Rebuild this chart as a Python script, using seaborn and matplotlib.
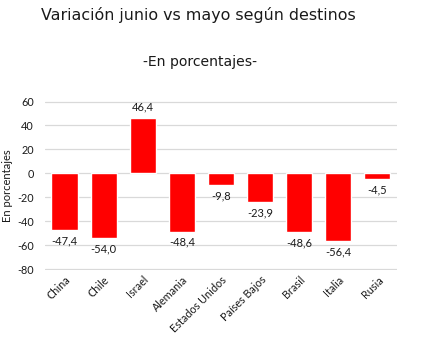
import matplotlib
matplotlib.use("Agg")
import matplotlib.pyplot as plt
import seaborn as sns
import pandas as pd

categories = ["China", "Chile", "Israel", "Alemania", "Estados Unidos",
              "Países Bajos", "Brasil", "Italia", "Rusia"]
values = [-47.4, -54.0, 46.4, -48.4, -9.8, -23.9, -48.6, -56.4, -4.5]
yticks = [60, 40, 20, 0, -20, -40, -60, -80]

sns.set_style("white")
plt.rcParams['font.family'] = ['Lato', 'DejaVu Sans']
plt.rcParams['text.color'] = '#1a1a1a'
plt.rcParams['xtick.color'] = '#1a1a1a'
plt.rcParams['ytick.color'] = '#1a1a1a'
plt.rcParams['axes.labelcolor'] = '#1a1a1a'

df = pd.DataFrame({"destino": categories, "valor": values})

fig = plt.figure(figsize=(4.46, 3.57), dpi=100)
ax = fig.add_axes([0.101, 0.244, 0.789, 0.473])
sns.barplot(data=df, x="destino", y="valor", color="#ff0000", saturation=1,
            width=0.67, ax=ax, zorder=3)
ax.set_ylim(-80.4, 60.4)
ax.set_xlim(-0.5, len(categories) - 0.5)
ax.set_yticks(yticks)
ax.set_yticklabels([str(t) for t in yticks], fontsize=7.8)
ax.grid(axis="y", color="#d9d9d9", linewidth=0.9, zorder=0)
ax.set_axisbelow(True)
for s in ax.spines.values():
    s.set_visible(False)
ax.tick_params(axis="y", length=0, pad=8)
ax.tick_params(axis="x", length=0, pad=3)
ax.set_xlabel("")
ax.set_ylabel("En porcentajes", fontsize=8, labelpad=3)
ax.set_xticks(range(len(categories)))
ax.set_xticklabels(categories, rotation=45, ha="right", rotation_mode="anchor", fontsize=7.8)

for i, v in enumerate(values):
    lbl = f"{v:.1f}".replace(".", ",")
    if v < 0:
        ax.text(i, v - 4.5, lbl, ha="center", va="top", fontsize=8)
    else:
        ax.text(i, v + 4.5, lbl, ha="center", va="bottom", fontsize=8)

fig.text(0.445, 0.958, "Variación junio vs mayo según destinos", ha="center", va="center",
         fontsize=11.4, family="DejaVu Sans")
fig.text(0.449, 0.826, "-En porcentajes-", ha="center", va="center",
         fontsize=10.1, family="DejaVu Sans")

fig.savefig("out.png", dpi=100)
